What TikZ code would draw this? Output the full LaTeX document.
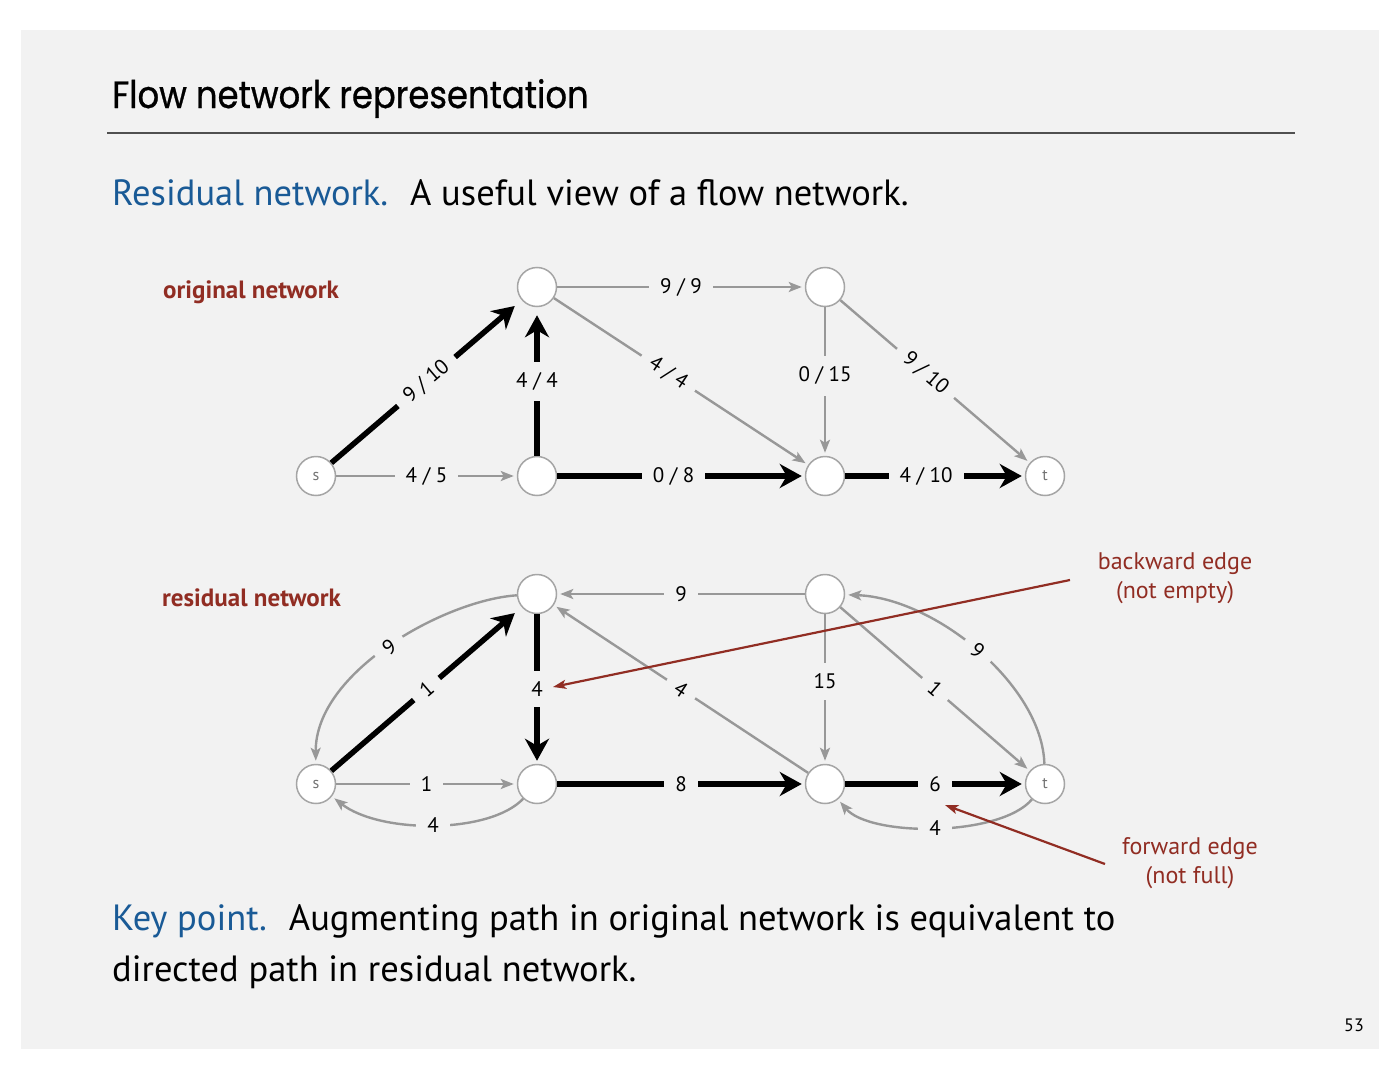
\documentclass[tikz,border=0pt]{standalone}
\usepackage{fontspec}
\usepackage{graphicx}
\setmainfont{PT Sans}
\newfontfamily\titlefont{Poppins}[FakeBold=0.8]
\usetikzlibrary{arrows.meta}
\definecolor{bg}{RGB}{242,242,242}
\definecolor{edgegray}{RGB}{152,152,152}
\definecolor{nodegray}{RGB}{165,165,165}
\definecolor{darkred}{RGB}{145,45,35}
\definecolor{myblue}{RGB}{25,90,150}
\definecolor{rulegray}{RGB}{80,80,80}
\begin{document}
\begin{tikzpicture}[x=1pt,y=-1pt,
  vtx/.style={circle,draw=nodegray,line width=1.5pt,fill=white,minimum size=39pt,inner sep=0pt,font=\fontsize{16}{16}\selectfont,text=black!55},
  light/.style={draw=edgegray,line width=2.4pt,-{Stealth[length=13pt,width=10pt,inset=3pt]},shorten >=3pt},
  heavy/.style={draw=black,line width=5.5pt,-{Stealth[length=22pt,width=24pt,inset=7pt]},shorten >=3pt},
  lbl/.style={fill=bg,inner xsep=11pt,inner ysep=11pt,font=\fontsize{21}{21}\selectfont,text=black},
  ann/.style={draw=darkred,line width=2.2pt,-{Stealth[length=13pt,width=9pt,inset=3pt]}},
  annt/.style={text=darkred,font=\fontsize{24}{29}\selectfont,align=center},
  sect/.style={text=darkred,font=\bfseries\fontsize{25}{25}\selectfont,anchor=base west,inner sep=0pt},
  body/.style={font=\fontsize{36.5}{52}\selectfont,anchor=base west,inner sep=0pt}
]
\useasboundingbox (0,0) rectangle (1400,1081);
\fill[white] (0,0) rectangle (1400,1081);
\fill[bg] (21,30) rectangle (1379,1049);

% title
\node[anchor=base west,inner sep=0pt,font=\titlefont\fontsize{38}{38}\selectfont] (title) at (112,108) {\scalebox{0.89}[1]{Flow network representation}};
\draw[rulegray,line width=1.6pt] (107,133) -- (1295,133);

\node[body] (intro) at (112,205) {{\color{myblue}Residual network.}\hspace{0.6em}A useful view of a flow network.};

\node[sect] (orig) at (163,298) {original network};
\node[sect] (resid) at (162,606) {residual network};

% top graph nodes
\node[vtx] (s) at (316,476) {s};
\node[vtx] (A) at (537,287) {};
\node[vtx] (B) at (825,287) {};
\node[vtx] (C) at (537,476) {};
\node[vtx] (D) at (825,476) {};
\node[vtx] (t) at (1045,476) {t};

\draw[heavy,shorten >=9pt] (s) -- node[lbl,sloped]{9 / 10} (A);
\draw[light] (s) -- node[lbl]{4 / 5} (C);
\draw[heavy,shorten >=8pt] (C) -- node[lbl]{4 / 4} (A);
\draw[light] (A) -- node[lbl]{9 / 9} (B);
\draw[light] (A) -- node[lbl,sloped,pos=0.45]{4 / 4} (D);
\draw[heavy] (C) -- node[lbl,pos=0.47]{0 / 8} (D);
\draw[light] (B) -- node[lbl,pos=0.46]{0 / 15} (D);
\draw[light] (B) -- node[lbl,sloped,pos=0.45]{9 / 10} (t);
\draw[heavy] (D) -- node[lbl,pos=0.45]{4 / 10} (t);

% bottom graph nodes
\node[vtx] (s2) at (316,784) {s};
\node[vtx] (A2) at (537,594) {};
\node[vtx] (B2) at (825,594) {};
\node[vtx] (C2) at (537,784) {};
\node[vtx] (D2) at (825,784) {};
\node[vtx] (t2) at (1045,784) {t};

\draw[heavy,shorten >=9pt] (s2) -- node[lbl,sloped]{1} (A2);
\draw[light] (A2) .. controls (445,600) and (315,672) .. node[lbl,sloped]{9} (s2);
\draw[light] (s2) -- node[lbl]{1} (C2);
\draw[light] (C2) .. controls (490,834) and (380,834) .. node[lbl,inner ysep=2pt]{4} (s2);
\draw[heavy] (A2) -- node[lbl]{4} (C2);
\draw[light] (B2) -- node[lbl]{9} (A2);
\draw[light] (D2) -- node[lbl,sloped]{4} (A2);
\draw[heavy] (C2) -- node[lbl]{8} (D2);
\draw[light] (B2) -- node[lbl,pos=0.45]{15} (D2);
\draw[light] (B2) -- node[lbl,sloped]{1} (t2);
\draw[light] (t2) .. controls (1042,685) and (935,598) .. node[lbl,sloped]{9} (B2);
\draw[heavy] (D2) -- node[lbl]{6} (t2);
\draw[light] (t2) .. controls (1000,837) and (870,837) .. node[lbl,inner ysep=2pt]{4} (D2);

% annotations
\node[annt] (bwd) at (1175,578) {backward edge\\(not empty)};
\node[annt] (fwd) at (1190,863) {forward edge\\(not full)};
\coordinate (bwdtail) at (1070,580);
\coordinate (bwdtip) at (553,687);
\coordinate (fwdtail) at (1105,864);
\coordinate (fwdtip) at (945,805);
\draw[ann] (bwdtail) -- (bwdtip);
\draw[ann] (fwdtail) -- (fwdtip);

\node[body] (key) at (112,930) {{\color{myblue}Key point.}\hspace{0.6em}Augmenting path in original network is equivalent to};
\node[body] (key2) at (112,981) {directed path in residual network.};

\node[anchor=base east,inner sep=0pt,font=\fontsize{18}{18}\selectfont] (pg) at (1364,1031) {53};
\end{tikzpicture}
\end{document}
